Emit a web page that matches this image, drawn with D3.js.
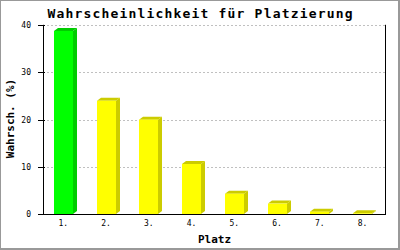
<!DOCTYPE html>
<html>
<head>
<meta charset="utf-8">
<script src="https://cdn.jsdelivr.net/npm/d3@7"></script>
<style>
  body { margin: 0; background: #fff; }
  text { font-family: "DejaVu Sans Mono", "Liberation Mono", monospace; }
</style>
</head>
<body>
<div id="chart"></div>
<script>
var width = 400;
var height = 250;

// Daten
var plaetze = ['1.', '2.', '3.', '4.', '5.', '6.', '7.', '8.'];
var werte = [38.8, 24.0, 20.0, 10.6, 4.3, 2.2, 0.5, 0.15];
var yTicks = [0, 10, 20, 30, 40];

var svg = d3.select('#chart')
  .append('svg')
  .attr('width', width)
  .attr('height', height)

// grauer Rahmen
svg.append('rect')
  .attr('width', width).attr('height', height)
  .style('fill', '#999')
svg.append('rect')
  .attr('x', 1).attr('y', 1)
  .attr('width', width - 3).attr('height', height - 3)
  .style('fill', '#fff')

var pLeft = 43, pRight = 385, pTop = 25.3, pBottom = 214;

var x = d3.scaleBand()
  .domain(plaetze)
  .range([pLeft, pRight])

var y = d3.scaleLinear()
  .domain([0, 40])
  .range([pBottom, pTop])

// Gitterlinien
svg.append('g')
  .selectAll('line')
  .data(yTicks.filter(d => d > 0))
  .enter()
  .append('line')
  .attr('x1', pLeft).attr('x2', pRight)
  .attr('y1', d => Math.round(y(d)) + 0.5)
  .attr('y2', d => Math.round(y(d)) + 0.5)
  .style('stroke', '#c0c0c0')
  .style('stroke-dasharray', '2,2')

// Balken (3D)
var dx = 4, dy = 3, barW = 19;
var farben = werte.map((d, i) => i === 0 ? ['#00ff00', '#00cc00'] : ['#ffff00', '#cccc00']);

var bars = svg.append('g')
  .selectAll('g')
  .data(werte)
  .enter()
  .append('g')

bars.each(function (d, i) {
  var g = d3.select(this);
  var x0 = Math.round(x(plaetze[i]) + x.bandwidth() / 2 - 10.4);
  var yv = y(d);
  // Seite
  g.append('path')
    .attr('d', 'M' + (x0 + barW) + ',' + yv + 'L' + (x0 + barW + dx) + ',' + (yv - dy) +
      'L' + (x0 + barW + dx) + ',' + (pBottom - dy) + 'L' + (x0 + barW) + ',' + pBottom + 'Z')
    .style('fill', farben[i][1])
  // Oberseite
  g.append('path')
    .attr('d', 'M' + x0 + ',' + yv + 'L' + (x0 + dx) + ',' + (yv - dy) +
      'L' + (x0 + barW + dx) + ',' + (yv - dy) + 'L' + (x0 + barW) + ',' + yv + 'Z')
    .style('fill', farben[i][1])
  // Vorderseite
  g.append('rect')
    .attr('x', x0).attr('y', yv)
    .attr('width', barW).attr('height', pBottom - yv)
    .style('fill', farben[i][0])
})

// Achsen
svg.append('line')
  .attr('x1', pLeft + 0.5).attr('x2', pLeft + 0.5)
  .attr('y1', pTop - 0.5).attr('y2', pBottom)
  .style('stroke', '#000')
svg.append('line')
  .attr('x1', pRight + 0.5).attr('x2', pRight + 0.5)
  .attr('y1', pTop - 0.5).attr('y2', pBottom)
  .style('stroke', '#000')
svg.append('line')
  .attr('x1', pLeft).attr('x2', pRight + 1)
  .attr('y1', pBottom + 0.5).attr('y2', pBottom + 0.5)
  .style('stroke', '#000')

// Y-Ticks
var yTickG = svg.append('g')
  .selectAll('g')
  .data(yTicks)
  .enter()
  .append('g')
  .attr('transform', d => 'translate(0,' + (Math.round(y(d)) + 0.5) + ')')
yTickG.append('line')
  .attr('x1', pLeft - 5).attr('x2', pLeft + 2)
  .style('stroke', '#000')
yTickG.append('text')
  .attr('x', 31)
  .attr('dy', '0.32em')
  .attr('text-anchor', 'end')
  .style('font-size', '8px')
  .text(d => d)

// X-Beschriftung
svg.append('g')
  .selectAll('text')
  .data(plaetze)
  .enter()
  .append('text')
  .attr('x', d => x(d) + x.bandwidth() / 2 - 1)
  .attr('y', 226)
  .attr('text-anchor', 'middle')
  .style('font-size', '8px')
  .text(d => d)

// Titel
svg.append('text')
  .attr('x', 200)
  .attr('y', 18)
  .attr('text-anchor', 'middle')
  .attr('textLength', 305)
  .attr('lengthAdjust', 'spacing')
  .style('font-size', '13px')
  .style('font-weight', 'bold')
  .text('Wahrscheinlichkeit für Platzierung')

svg.append('text')
  .attr('x', 214.5)
  .attr('y', 243)
  .attr('text-anchor', 'middle')
  .style('font-size', '11px')
  .style('font-weight', 'bold')
  .text('Platz')

svg.append('text')
  .attr('transform', 'translate(14,118.5) rotate(-90)')
  .attr('text-anchor', 'middle')
  .style('font-size', '11px')
  .style('font-weight', 'bold')
  .text('Wahrsch. (%)')
</script>
</body>
</html>
